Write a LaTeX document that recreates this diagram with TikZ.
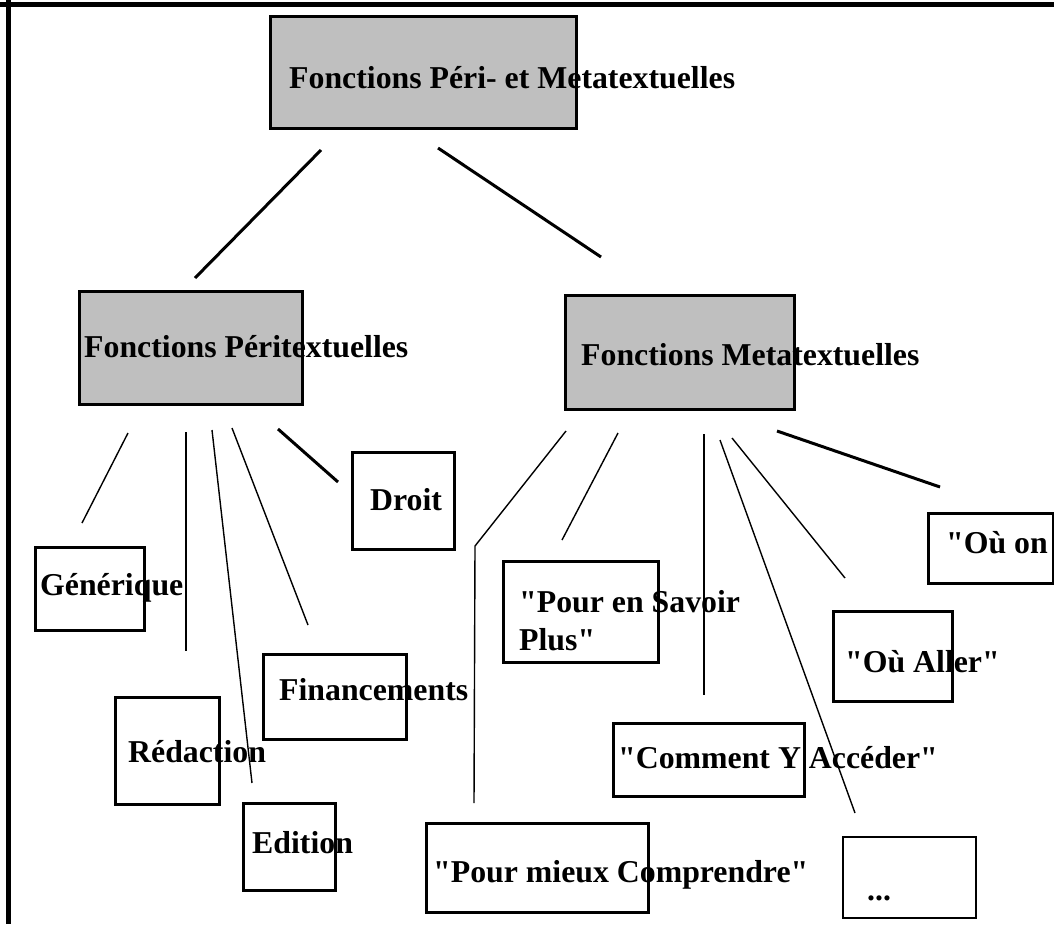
\documentclass[tikz,border=0pt]{standalone}
\usepackage{fontspec}
\setmainfont{Liberation Serif}[Ligatures=TeXOff]
\definecolor{boxgray}{RGB}{191,191,191}
\begin{document}
\begin{tikzpicture}[x=1pt,y=-1pt,
  box/.style={draw=black, line width=3.2pt, rectangle, inner sep=0pt, anchor=north west},
  thinbox/.style={box, line width=2pt},
  headbox/.style={box, fill=boxgray},
  label/.style={anchor=base west, inner sep=0pt, font=\fontsize{31.8}{38}\selectfont\bfseries},
  thick link/.style={line width=3pt},
  thin link/.style={line width=1.4pt}
]
\useasboundingbox (0,0) rectangle (1054,924);
\clip (0,0) rectangle (1054,924);

% page frame (top and left edges)
\draw[line width=5pt] (0,4.5) -- (1054,4.5);
\draw[line width=5pt] (8.5,0) -- (8.5,924);

% boxes
\node[headbox, minimum width=306pt, minimum height=112pt] (top) at (269,15) {};
\node[headbox, minimum width=223pt, minimum height=113pt] (peri) at (78,290) {};
\node[headbox, minimum width=229pt, minimum height=114pt] (meta) at (564,294) {};

\node[box, minimum width=102pt, minimum height=97pt]  (droit)   at (351,451) {};
\node[box, minimum width=109pt, minimum height=83pt]  (gener)   at (34,546) {};
\node[box, minimum width=143pt, minimum height=85pt]  (finan)   at (262,653) {};
\node[box, minimum width=104pt, minimum height=107pt] (redac)   at (114,696) {};
\node[box, minimum width=92pt,  minimum height=87pt]  (edit)    at (242,802) {};

\node[box, minimum width=155pt, minimum height=101pt] (savoir)  at (502,560) {};
\node[box, minimum width=125pt, minimum height=70pt]  (ouon)    at (927,512) {};
\node[box, minimum width=119pt, minimum height=90pt]  (aller)   at (832,610) {};
\node[box, minimum width=191pt, minimum height=73pt]  (comment) at (612,722) {};
\node[box, minimum width=222pt, minimum height=89pt]  (mieux)   at (425,822) {};
\node[thinbox, minimum width=133pt, minimum height=81pt] (dots) at (842,836) {};

% texts
\node[label] (ttop)     at (289,88)  {Fonctions Péri- et Metatextuelles};
\node[label] (tperi)    at (84,357)  {Fonctions Péritextuelles};
\node[label] (tmeta)    at (581,365) {Fonctions Metatextuelles};
\node[label] (tdroit)   at (370,510) {Droit};
\node[label] (tgener)   at (40,595)  {Générique};
\node[label] (tfinan)   at (279,700) {Financements};
\node[label] (tredac)   at (128,762) {Rédaction};
\node[label] (tedit)    at (252,853) {Edition};
\node[label] (tsavoirA) at (519,612) {"Pour en Savoir};
\node[label] (tsavoirB) at (519,650) {Plus"};
\node[label] (touon)    at (946,553) {"Où on};
\node[label] (taller)   at (845,672) {"Où Aller"};
\node[label] (tcomment) at (618,768) {"Comment Y Accéder"};
\node[label] (tmieux)   at (433,882) {"Pour mieux Comprendre"};
\node[label] (tdots)    at (867,900) {...};

% connector end points
\coordinate (a1) at (321,150); \coordinate (a2) at (195,278);
\coordinate (b1) at (438,148); \coordinate (b2) at (601,257);

\coordinate (g1) at (128,433); \coordinate (g2) at (82,523);
\coordinate (r1) at (186,432); \coordinate (r2) at (186,651);
\coordinate (e1) at (212,430); \coordinate (e2) at (252,783);
\coordinate (f1) at (232,428); \coordinate (f2) at (308,625);
\coordinate (d1) at (278,429); \coordinate (d2) at (338,482);

\coordinate (m1) at (566,431); \coordinate (m2) at (475,546); \coordinate (m3) at (474,803);
\coordinate (s1) at (618,433); \coordinate (s2) at (562,540);
\coordinate (c1) at (704,434); \coordinate (c2) at (704,695);
\coordinate (p1) at (720,440); \coordinate (p2) at (855,813);
\coordinate (l1) at (732,438); \coordinate (l2) at (845,578);
\coordinate (o1) at (777,431); \coordinate (o2) at (940,487);

% connectors
\draw[thick link] (a1) -- (a2);
\draw[thick link] (b1) -- (b2);

\draw[thin link] (g1) -- (g2);
\draw[thin link] (r1) -- (r2);
\draw[thin link] (e1) -- (e2);
\draw[thin link] (f1) -- (f2);
\draw[thick link] (d1) -- (d2);

\draw[thin link] (m1) -- (m2) -- (m3);
\draw[thin link] (s1) -- (s2);
\draw[thin link] (c1) -- (c2);
\draw[thin link] (p1) -- (p2);
\draw[thin link] (l1) -- (l2);
\draw[thick link] (o1) -- (o2);
\end{tikzpicture}
\end{document}
